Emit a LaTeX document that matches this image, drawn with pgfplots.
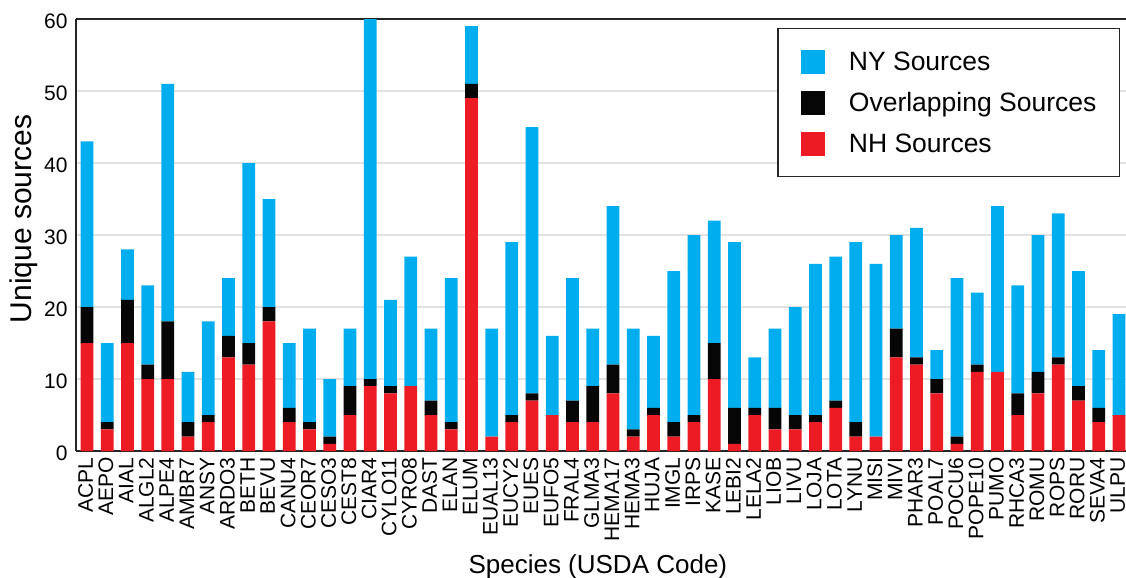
\documentclass[border=0pt]{standalone}
\usepackage{fontspec}
\setmainfont{Liberation Sans}
\usepackage{pgfplots}
\usepackage{pgfplotstable}
\pgfplotsset{compat=1.18}
\definecolor{nyblue}{HTML}{00AEEF}
\definecolor{nhred}{HTML}{ED1C24}
\definecolor{ovblack}{HTML}{060606}
\definecolor{gridgray}{HTML}{E2E2E2}
\pgfplotstableread{
name NH OV NY
ACPL 15 5 23
AEPO 3 1 11
AIAL 15 6 7
ALGL2 10 2 11
ALPE4 10 8 33
AMBR7 2 2 7
ANSY 4 1 13
ARDO3 13 3 8
BETH 12 3 25
BEVU 18 2 15
CANU4 4 2 9
CEOR7 3 1 13
CESO3 1 1 8
CEST8 5 4 8
CIAR4 9 1 50
CYLO11 8 1 12
CYRO8 9 0 18
DAST 5 2 10
ELAN 3 1 20
ELUM 49 2 8
EUAL13 2 0 15
EUCY2 4 1 24
EUES 7 1 37
EUFO5 5 0 11
FRAL4 4 3 17
GLMA3 4 5 8
HEMA17 8 4 22
HEMA3 2 1 14
HUJA 5 1 10
IMGL 2 2 21
IRPS 4 1 25
KASE 10 5 17
LEBI2 1 5 23
LELA2 5 1 7
LIOB 3 3 11
LIVU 3 2 15
LOJA 4 1 21
LOTA 6 1 20
LYNU 2 2 25
MISI 2 0 24
MIVI 13 4 13
PHAR3 12 1 18
POAL7 8 2 4
POCU6 1 1 22
POPE10 11 1 10
PUMO 11 0 23
RHCA3 5 3 15
ROMU 8 3 19
ROPS 12 1 20
RORU 7 2 16
SEVA4 4 2 8
ULPU 5 0 14
}\data
\begin{document}
\begin{tikzpicture}
\begin{axis}[
  scale only axis,
  width=1050pt, height=432pt,
  ybar stacked,
  bar width=0.63,
  xmin=-0.54, xmax=51.35,
  ymin=0, ymax=60,
  enlarge x limits=false,
  axis x line*=box,
  axis y line*=left,
  axis line style={draw=black!85, line width=1.4pt},
  ytick={0,10,20,30,40,50,60},
  xtick={0,...,51},
  xticklabels from table={\data}{name},
  major tick length=0pt,
  ymajorgrids,
  grid style={draw=gridgray, line width=1.6pt},
  /pgf/number format/assume math mode=true,
  ticklabel style={font=\fontsize{21}{24}\selectfont},
  yticklabel style={xshift=-5pt, yshift=-2pt},
  xticklabel style={rotate=90, anchor=east, xshift=-3pt, yshift=1.2pt},
  ylabel={Unique sources},
  ylabel style={font=\fontsize{30}{34}\selectfont, at={(axis description cs:0,0.537)}, anchor=base, yshift=44pt},
  xlabel={Species (USDA Code)},
  xlabel style={font=\fontsize{26}{30}\selectfont, at={(axis description cs:0.497,0)}, anchor=base, yshift=-122pt},
  reverse legend,
  legend cell align=left,
  legend image code/.code={\fill[#1] (0pt,-12pt) rectangle (24pt,12pt);},
  legend style={at={(axis description cs:1,1)}, anchor=north east, xshift=-6pt, yshift=-9pt,
    draw=black!85, line width=1.2pt, fill=white,
    font=\fontsize{26.5}{30}\selectfont,
    inner xsep=23pt, inner ysep=21pt, row sep=17pt, column sep=24pt,
    nodes={inner xsep=0pt, inner ysep=0pt}},
]
\addplot[fill=nhred, draw=none] table[x expr=\coordindex, y=NH] {\data};
\addlegendentry{NH Sources}
\addplot[fill=ovblack, draw=none] table[x expr=\coordindex, y=OV] {\data};
\addlegendentry{Overlapping Sources}
\addplot[fill=nyblue, draw=none] table[x expr=\coordindex, y=NY] {\data};
\addlegendentry{NY Sources}
\coordinate (bl) at (rel axis cs:0,0);
\coordinate (tr) at (rel axis cs:1,1);
\end{axis}
\pgfresetboundingbox
\path[use as bounding box] ([xshift=-76pt,yshift=-126pt]bl) rectangle ([yshift=19pt]tr);
\end{tikzpicture}
\end{document}
